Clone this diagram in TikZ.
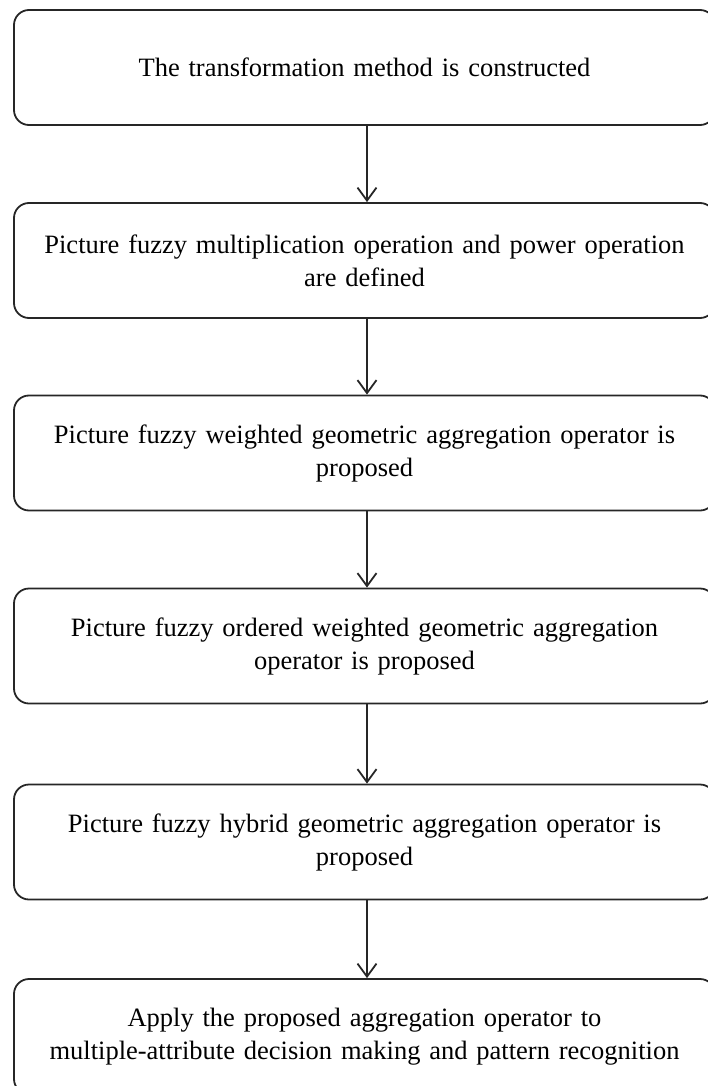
\documentclass[tikz,border=0pt]{standalone}
\usepackage{fontspec}
\setmainfont{Liberation Serif}
\usetikzlibrary{arrows.meta}
\tikzset{
  stagebox/.style={draw=black!85, line width=1.8pt, rounded corners=15pt,
    minimum width=701pt, minimum height=115pt, inner sep=0pt,
    text width=690pt, align=center, font=\fontsize{26.5}{33}\selectfont},
  flowarrow/.style={draw=black!85, line width=1.8pt,
    -{Straight Barb[length=13pt,width=19pt,line width=1.8pt]}}
}
\begin{document}
\begin{tikzpicture}[x=1pt,y=-1pt]
\useasboundingbox (0,0) rectangle (708,1086);
\node[stagebox] (s1) at (364.5,67.5) {The transformation method is constructed};
\node[stagebox] (s2) at (364.5,260.5) {Picture fuzzy multiplication operation and power operation\\are defined};
\node[stagebox] (s3) at (364.5,453) {Picture fuzzy weighted geometric aggregation operator is\\proposed};
\node[stagebox] (s4) at (364.5,646) {Picture fuzzy ordered weighted geometric aggregation\\operator is proposed};
\node[stagebox] (s5) at (364.5,842) {Picture fuzzy hybrid geometric aggregation operator is\\proposed};
\node[stagebox] (s6) at (364.5,1036.5) {Apply the proposed aggregation operator to\\multiple-attribute decision making and pattern recognition};
\draw[flowarrow] (s1.south -| 367,0) -- (s2.north -| 367,0);
\draw[flowarrow] (s2.south -| 367,0) -- (s3.north -| 367,0);
\draw[flowarrow] (s3.south -| 367,0) -- (s4.north -| 367,0);
\draw[flowarrow] (s4.south -| 367,0) -- (s5.north -| 367,0);
\draw[flowarrow] (s5.south -| 367,0) -- (s6.north -| 367,0);
\end{tikzpicture}
\end{document}
